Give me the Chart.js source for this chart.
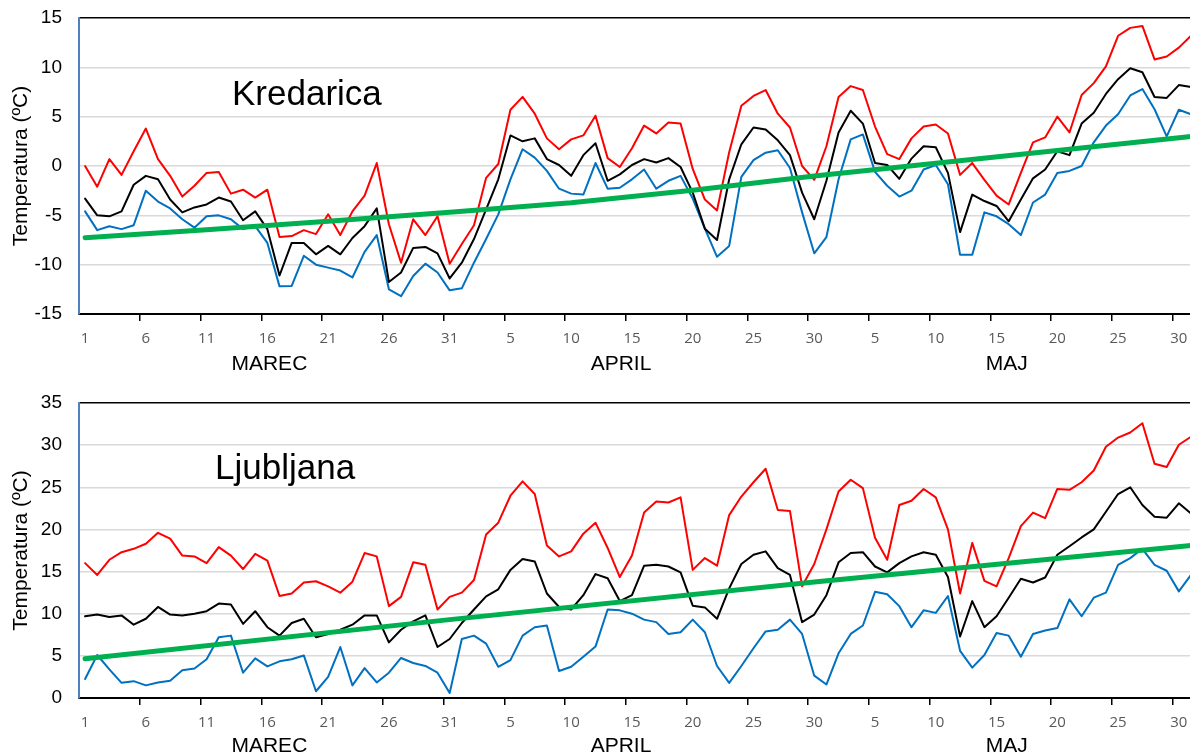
<!DOCTYPE html>
<html>
<head>
<meta charset="utf-8">
<script src="https://cdn.jsdelivr.net/npm/chart.js@4.4.1/dist/chart.umd.min.js"></script>
<style>
  html, body { margin: 0; padding: 0; background: #fff; overflow: hidden; }
  body { width: 1190px; height: 756px; position: relative; }
  .panel { position: absolute; left: 0; width: 1200px; }
  #kredPanel { top: 0; height: 378px; }
  #ljPanel   { top: 385px; height: 371px; }
</style>
</head>
<body>
<div class="panel" id="kredPanel"><canvas id="kredChart" width="1200" height="378"></canvas></div>
<div class="panel" id="ljPanel"><canvas id="ljChart" width="1200" height="371"></canvas></div>
<script>
// ── Data ──────────────────────────────────────────────────────
const monthNames = ['MAREC', 'APRIL', 'MAJ'];
const monthDays  = [31, 30, 31];

// Kredarica (1 March – 31 May)
const kredMax = [
  0, -2.1, 0.7, -0.9, 1.5, 3.8, 0.7, -1.0, -3.1, -2.0, -0.7, -0.6, -2.8, -2.4, -3.2, -2.4,
  -7.2, -7.1, -6.5, -6.9, -4.9, -7.0, -4.6, -3.0, 0.3, -5.9, -9.8, -5.4, -7.0, -5.1, -9.9,
  -7.9, -6.0, -1.2, 0.2, 5.7, 7.0, 5.3, 2.8, 1.7, 2.7, 3.1, 5.1, 0.8, -0.1, 1.8,
  4.1, 3.3, 4.4, 4.3, -0.3, -3.4, -4.5, 1.4, 6.1, 7.1, 7.7, 5.3, 3.9, 0, -1.4,
  2.0, 7.0, 8.1, 7.7, 4.0, 1.2, 0.7, 2.8, 4.0, 4.2, 3.3, -0.9, 0.3, -1.4, -3.0, -3.9,
  -0.7, 2.4, 2.9, 5.0, 3.4, 7.2, 8.4, 10.1, 13.2, 14.0, 14.2, 10.8, 11.1, 12.0, 13.2
];
const kredMean = [
  -3.3, -5.0, -5.1, -4.6, -1.9, -1.0, -1.35, -3.4, -4.7, -4.2, -3.9, -3.2, -3.6, -5.5, -4.6, -6.4,
  -11.1, -7.8, -7.8, -8.95, -8.1, -8.95, -7.3, -6.1, -4.3, -11.75, -10.8, -8.3, -8.2, -8.85, -11.4,
  -9.8, -7.4, -4.4, -1.35, 3.1, 2.5, 2.8, 0.7, 0.1, -1.0, 1.1, 2.3, -1.5, -0.85, 0.1,
  0.7, 0.35, 0.8, -0.1, -2.7, -6.35, -7.5, -1.35, 2.2, 3.9, 3.7, 2.6, 1.1, -2.7, -5.4,
  -1.5, 3.4, 5.6, 4.3, 0.3, 0.1, -1.3, 0.75, 2.0, 1.9, -0.7, -6.7, -2.9, -3.55, -4.05, -5.6,
  -3.4, -1.25, -0.35, 1.5, 1.1, 4.3, 5.4, 7.3, 8.8, 9.9, 9.5, 7.0, 6.9, 8.2, 8.0
];
const kredMin = [
  -4.6, -6.5, -6.1, -6.4, -6.0, -2.5, -3.6, -4.3, -5.4, -6.25, -5.1, -5.0, -5.4, -6.4, -6.1, -7.8,
  -12.2, -12.15, -9.1, -10.0, -10.3, -10.6, -11.3, -8.7, -7.0, -12.5, -13.2, -11.15, -9.9, -10.8, -12.6,
  -12.4, -9.8, -7.4, -4.9, -1.35, 1.7, 0.85, -0.5, -2.3, -2.8, -2.9, 0.3, -2.3, -2.2, -1.35,
  -0.35, -2.3, -1.5, -1.0, -3.3, -6.35, -9.2, -8.1, -1.1, 0.6, 1.35, 1.6, -0.2, -4.7, -8.85,
  -7.2, -1.35, 2.7, 3.2, -0.6, -2.0, -3.1, -2.5, -0.35, 0.1, -1.85, -9.0, -9.0, -4.7, -5.1, -5.9,
  -7.0, -3.7, -2.9, -0.7, -0.5, 0.0, 2.4, 4.1, 5.25, 7.15, 7.8, 5.75, 3.0, 5.7, 5.25
];
const kredTrendDay = [0, 10, 20, 30, 40, 50, 60, 70, 80, 91];
const kredTrendVal = [-7.26, -6.45, -5.6, -4.68, -3.73, -2.45, -1.02, 0.27, 1.57, 3.0];
const kredTicks    = [-15, -10, -5, 0, 5, 10, 15];

// Ljubljana (1 March – 31 May)
const ljMax = [
  16.0, 14.6, 16.4, 17.3, 17.7, 18.3, 19.6, 18.9, 16.9, 16.8, 16.0, 17.9, 16.9, 15.3, 17.1, 16.3,
  12.1, 12.4, 13.7, 13.85, 13.25, 12.5, 13.8, 17.2, 16.8, 10.9, 12.0, 16.1, 15.8, 10.5, 12.0,
  12.5, 14.0, 19.4, 20.8, 24.0, 25.7, 24.2, 18.1, 16.8, 17.4, 19.5, 20.8, 17.8, 14.35, 16.9,
  22.0, 23.3, 23.2, 23.8, 15.2, 16.6, 15.7, 21.7, 23.9, 25.6, 27.2, 22.3, 22.2, 13.25, 15.9,
  20.0, 24.5, 25.9, 24.9, 19.0, 16.4, 22.9, 23.4, 24.8, 23.8, 20.0, 12.4, 18.4, 13.9, 13.25, 16.6,
  20.4, 22.0, 21.35, 24.8, 24.7, 25.6, 27.0, 29.8, 30.9, 31.5, 32.6, 27.8, 27.4, 30.05, 31.0
];
const ljMean = [
  9.7, 9.9, 9.6, 9.8, 8.7, 9.4, 10.8, 9.9, 9.8, 10.0, 10.3, 11.2, 11.1, 8.8, 10.3, 8.4,
  7.4, 8.9, 9.4, 7.2, 7.6, 8.1, 8.7, 9.8, 9.8, 6.6, 8.1, 9.1, 9.8, 6.05, 7.0,
  8.9, 10.5, 12.05, 12.9, 15.2, 16.5, 16.2, 12.4, 10.8, 10.5, 12.2, 14.7, 14.2, 11.5, 12.2,
  15.7, 15.8, 15.6, 14.9, 10.95, 10.75, 9.4, 13.0, 15.9, 17.0, 17.4, 15.4, 14.6, 9.0, 9.9,
  12.2, 16.1, 17.2, 17.3, 15.6, 14.9, 16.0, 16.8, 17.3, 17.0, 14.35, 7.3, 11.5, 8.4, 9.7, 11.9,
  14.15, 13.7, 14.3, 17.0, 18.0, 19.05, 20.0, 22.1, 24.2, 25.0, 22.9, 21.5, 21.4, 23.1, 21.9
];
const ljMin = [
  2.25, 5.1, 3.4, 1.8, 2.0, 1.5, 1.85, 2.05, 3.3, 3.5, 4.6, 7.2, 7.4, 3.0, 4.7, 3.75,
  4.35, 4.6, 5.05, 0.8, 2.5, 6.05, 1.5, 3.55, 1.85, 3.0, 4.75, 4.15, 3.8, 3.0, 0.6,
  7.0, 7.4, 6.45, 3.7, 4.5, 7.4, 8.4, 8.6, 3.2, 3.7, 4.9, 6.1, 10.5, 10.4, 10.0,
  9.3, 9.0, 7.6, 7.8, 9.3, 7.8, 3.8, 1.8, 3.8, 5.9, 7.9, 8.1, 9.3, 7.6, 2.65,
  1.6, 5.3, 7.6, 8.6, 12.6, 12.3, 10.9, 8.4, 10.4, 10.1, 12.1, 5.6, 3.6, 5.1, 7.7, 7.4,
  4.9, 7.6, 8.0, 8.3, 11.7, 9.7, 11.9, 12.5, 15.8, 16.6, 17.7, 15.8, 15.1, 12.65, 14.6
];
const ljTrendDay = [0, 30, 60, 91];
const ljTrendVal = [4.65, 9.3, 13.75, 18.1];
const ljTicks    = [0, 5, 10, 15, 20, 25, 30, 35];

// ── Category labels (day of month) ────────────────────────────
const days = [];
monthDays.forEach(n => { for (let d = 1; d <= n; d++) days.push(String(d)); });

// trend line: only the read points, the library joins them
const toSparse = (idx, vals) => {
  const out = days.map(() => null);
  idx.forEach((d, i) => { out[d] = vals[i]; });
  return out;
};

// ── Plugins ───────────────────────────────────────────────────
const monthLabels = {
  id: 'monthLabels',
  afterDraw(chart, args, opts) {
    const x   = chart.scales.x;
    const ctx = chart.ctx;
    ctx.save();
    ctx.font         = '21px "Liberation Sans", Arial, sans-serif';
    ctx.fillStyle    = '#000';
    ctx.textAlign    = 'center';
    ctx.textBaseline = 'middle';
    let start = 0;
    monthNames.forEach((name, i) => {
      const end = start + monthDays[i] - 1;
      const cx  = (x.getPixelForValue(start) + x.getPixelForValue(end)) / 2 + opts.nudge[i];
      ctx.fillText(name, cx, chart.chartArea.bottom + opts.offset);
      start = end + 1;
    });
    ctx.restore();
  }
};

const stationName = {
  id: 'stationName',
  afterDatasetsDraw(chart, args, opts) {
    const ctx = chart.ctx;
    ctx.save();
    ctx.font         = '35px "Liberation Sans", Arial, sans-serif';
    ctx.fillStyle    = '#000';
    ctx.textAlign    = 'left';
    ctx.textBaseline = 'alphabetic';
    ctx.fillText(opts.text, chart.chartArea.left + opts.dx, chart.chartArea.top + opts.dy);
    ctx.restore();
  }
};

// ── Chart builder ─────────────────────────────────────────────
const makeChart = (canvasId, maxS, meanS, minS, trend, yTicks, name, cfg) => {
  const yMax = yTicks[yTicks.length - 1];
  return new Chart(document.getElementById(canvasId), {
    type: 'line',
    data: {
      labels: days,
      datasets: [
        { data: trend, borderColor: '#00b050', borderWidth: 5, spanGaps: true },
        { data: maxS,  borderColor: '#ff0000', borderWidth: 2 },
        { data: meanS, borderColor: '#000000', borderWidth: 2 },
        { data: minS,  borderColor: '#0070c0', borderWidth: 2 }
      ]
    },
    options: {
      responsive: false,
      animation:  false,
      events:     [],
      layout: { padding: { top: cfg.padTop, left: 0, right: 0, bottom: 0 } },
      elements: {
        point: { radius: 0 },
        line:  { tension: 0, borderCapStyle: 'round', borderJoinStyle: 'round' }
      },
      plugins: {
        legend:  { display: false },
        tooltip: { enabled: false },
        monthLabels: { offset: cfg.monthOffset, nudge: [2, -17, -2] },
        stationName: { text: name, dx: cfg.nameDx, dy: cfg.nameDy }
      },
      scales: {
        x: {
          offset: true,
          afterFit: s => { s.height = cfg.xHeight; },
          border: { display: true, color: '#000', width: 2 },
          grid: {
            offset: true,
            drawOnChartArea: false,
            drawTicks: true,
            tickLength: 7,
            lineWidth: 1.5,
            color: c => (c.index > 0 && c.index % 5 === 0 && c.index < days.length) ? '#000' : 'rgba(0,0,0,0)'
          },
          ticks: {
            autoSkip: false,
            maxRotation: 0,
            padding: 9,
            color: '#595959',
            font: { family: '"Open Sans", sans-serif', size: 15 },
            callback: (v, i) => (i % 5 === 0 ? days[i] : '')
          }
        },
        y: {
          min: yTicks[0],
          max: yMax,
          afterBuildTicks: s => { s.ticks = yTicks.map(v => ({ value: v })); },
          afterFit: s => { s.width = 79; s.paddingTop = 0; s.paddingBottom = 0; },
          border: { display: true, color: '#4f81bd', width: 2 },
          grid: {
            drawTicks: false,
            lineWidth: 1.5,
            color: c => (c.tick && c.tick.value === yMax ? '#000' : '#d9d9d9')
          },
          ticks: {
            padding: 17,
            color: '#000',
            font: { family: '"Liberation Sans", Arial, sans-serif', size: 19 }
          },
          title: {
            display: true,
            text: 'Temperatura (ºC)',
            color: '#000',
            padding: { top: 9, bottom: 0 },
            font: { family: '"Liberation Sans", Arial, sans-serif', size: 21 }
          }
        }
      }
    },
    plugins: [monthLabels, stationName]
  });
};

// ── Init ──────────────────────────────────────────────────────
makeChart('kredChart', kredMax, kredMean, kredMin, toSparse(kredTrendDay, kredTrendVal), kredTicks,
  'Kredarica', { padTop: 18, xHeight: 64, monthOffset: 50, nameDx: 153, nameDy: 87 });
makeChart('ljChart', ljMax, ljMean, ljMin, toSparse(ljTrendDay, ljTrendVal), ljTicks,
  'Ljubljana', { padTop: 18, xHeight: 58, monthOffset: 48, nameDx: 136, nameDy: 76 });
</script>
</body>
</html>
